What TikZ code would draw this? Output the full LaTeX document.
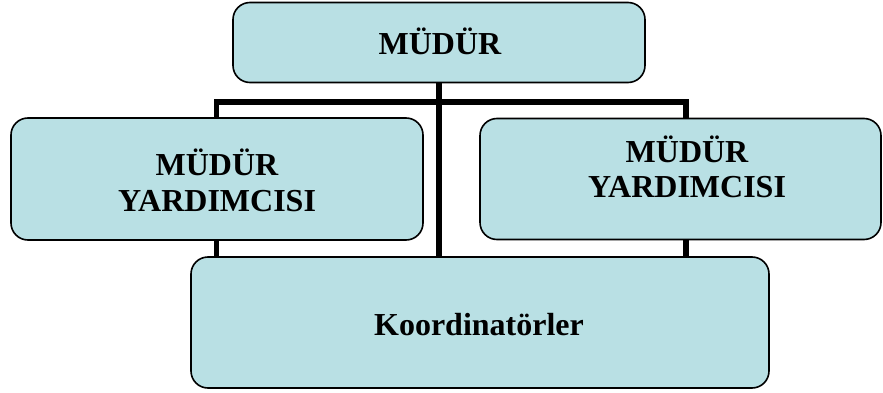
\documentclass[tikz,border=0pt]{standalone}
\usepackage{fontspec}
\setmainfont{Liberation Serif}
\definecolor{boxfill}{RGB}{185,224,228}
\begin{document}
\begin{tikzpicture}[x=1pt,y=-1pt,
  orgbox/.style={draw=black,line width=1.6pt,fill=boxfill,rounded corners=17pt,
    rectangle,inner sep=0pt,outer sep=0pt},
  label/.style={anchor=base,inner sep=0pt,font=\fontsize{32}{36}\selectfont\bfseries},
  conn/.style={line width=5.5pt,line join=miter,draw=black}]
\useasboundingbox (0,0) rectangle (883,393);
% boxes
\node[orgbox,minimum width=412pt,minimum height=80pt] (top) at (439,42.5) {};
\node[orgbox,minimum width=412pt,minimum height=122pt] (left) at (217,179) {};
\node[orgbox,minimum width=401pt,minimum height=121pt] (right) at (680.5,179) {};
\node[orgbox,minimum width=578pt,minimum height=131pt] (bot) at (480,322.5) {};
% connectors
\coordinate (hl) at (216.5,102);
\coordinate (hr) at (686,102);
\coordinate (hc) at (439,102);
\draw[conn] (hl |- left.north) -- (hl) -- (hr) -- (hr |- right.north);
\draw[conn] (hc |- top.south) -- (hc |- bot.north);
\draw[conn] (hl |- left.south) -- (hl |- bot.north);
\draw[conn] (hr |- right.south) -- (hr |- bot.north);
% texts
\node[label] (t1) at (440,55) {MÜDÜR};
\node[label] (l1) at (217,175) {MÜDÜR};
\node[label] (l2) at (217,211) {YARDIMCISI};
\node[label] (r1) at (687,162) {MÜDÜR};
\node[label] (r2) at (687,197) {YARDIMCISI};
\node[label] (b1) at (479,335) {Koordinatörler};
\end{tikzpicture}
\end{document}
